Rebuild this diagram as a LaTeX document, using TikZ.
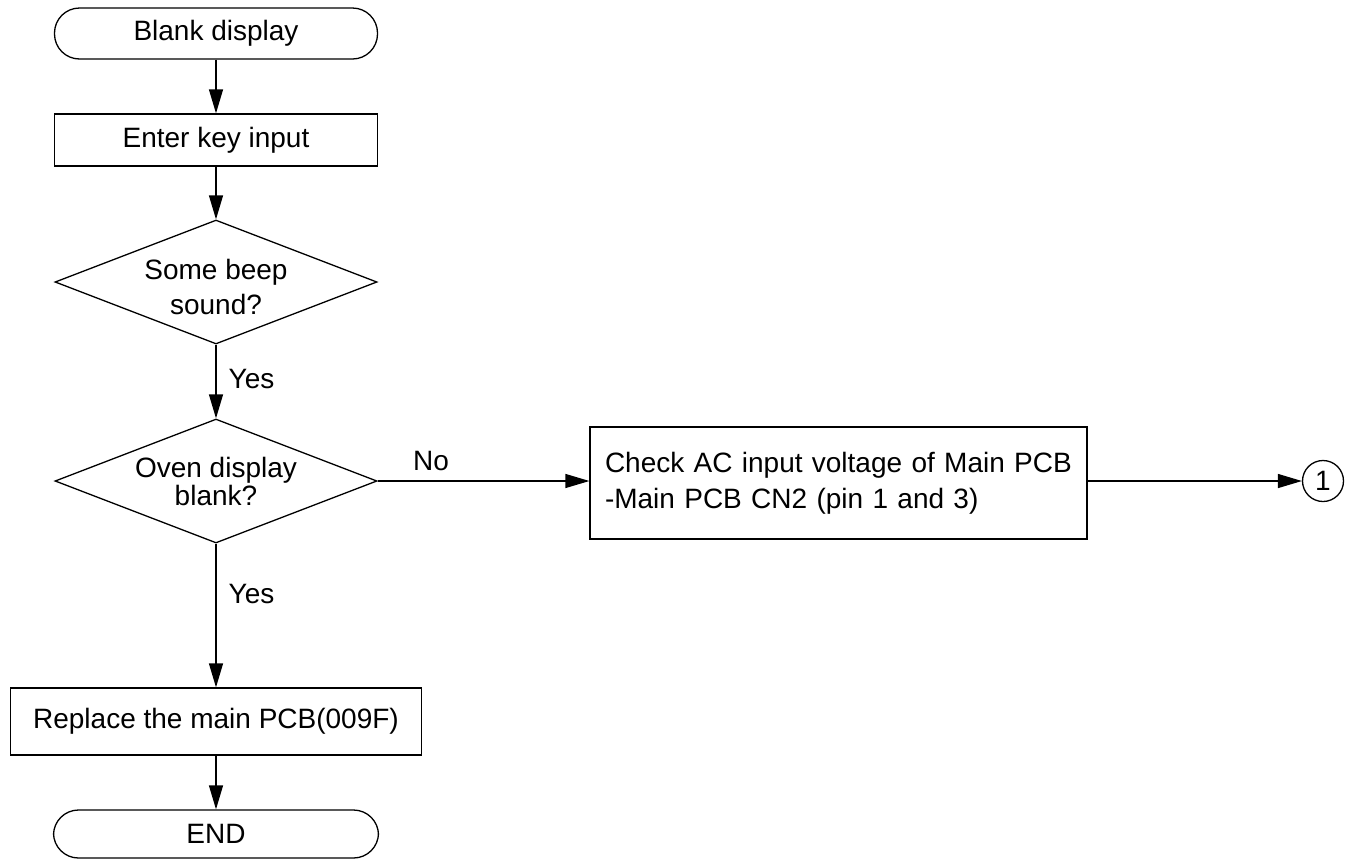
\documentclass[tikz,border=0pt]{standalone}
\usepackage{fontspec}
\setmainfont{Liberation Sans}
\usetikzlibrary{arrows.meta,shapes.geometric}
\begin{document}
\begin{tikzpicture}[x=1pt,y=-1pt,
  every node/.style={font=\fontsize{28}{34}\selectfont, inner sep=0pt},
  base/.style={draw, line width=1.3pt},
  term/.style={base, rounded corners=25pt, minimum width=323pt, minimum height=51pt},
  procbox/.style={base, rectangle},
  decide/.style={base, shape=diamond, aspect=2.6, minimum width=322pt, minimum height=124pt, align=center},
  conn/.style={line width=1.3pt, -{Triangle[length=24pt,width=14pt]}},
  lbl/.style={anchor=base west}
]
\useasboundingbox (0,0) rectangle (1348,860);
\node[term] (start) at (216,33.5) {Blank display};
\node[procbox, minimum width=323pt, minimum height=52pt] (key) at (216,140) {Enter key input};
\node[decide, font=\fontsize{28}{35}\selectfont] (d1) at (216,282) {\rule{0pt}{30pt}Some beep\\sound?};
\node[decide, font=\fontsize{28}{28}\selectfont] (d2) at (216,481) {Oven display\\blank?};
\node[procbox, minimum width=411pt, minimum height=67pt] (rep) at (216,721.5) {Replace the main PCB(009F)};
\node[term, minimum width=325pt, minimum height=48pt] (end) at (216,834) {END};
\node[procbox, minimum width=497pt, minimum height=112pt, text width=467pt, align=left, inner xsep=15pt, font=\fontsize{28}{36}\selectfont] (check) at (838.5,483) {Check AC input voltage of Main PCB\\-Main PCB CN2 (pin 1 and 3)};
\node[base, circle, minimum size=41pt] (c1) at (1323,481) {1};

\draw[conn] (start) -- (key);
\draw[conn] (key) -- (d1);
\draw[conn] (d1) -- node[lbl, pos=0.5, xshift=12pt, yshift=-7pt] (y1) {Yes} (d2);
\draw[conn] (d2) -- node[lbl, pos=0.4, xshift=12pt, yshift=-2pt] (y2) {Yes} (rep);
\draw[conn] (rep) -- (end);
\draw[conn] (d2.east) -- node[lbl, pos=0.165, yshift=11pt] (no) {No} (d2.east -| check.west);
\draw[conn] (check.east |- c1.west) -- (c1.west);
\end{tikzpicture}
\end{document}
